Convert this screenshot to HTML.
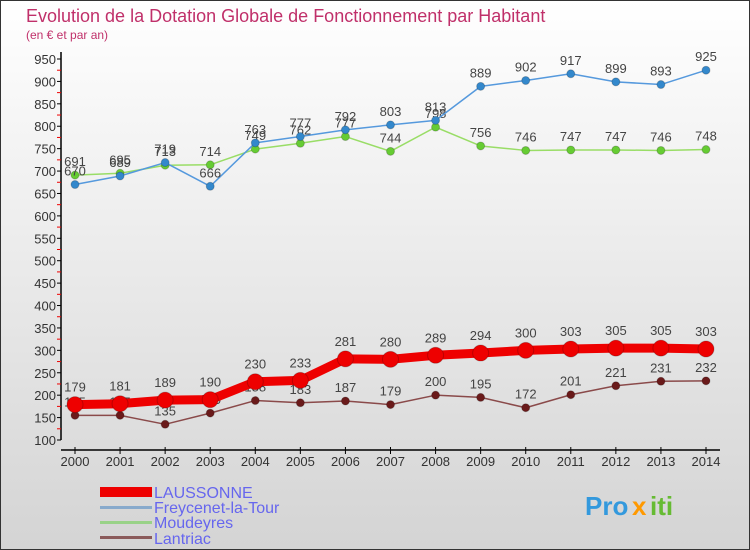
<!DOCTYPE html>
<html><head><meta charset="utf-8">
<style>
body{margin:0;width:750px;height:550px;overflow:hidden;font-family:"Liberation Sans","DejaVu Sans",sans-serif}
svg{display:block}
</style></head>
<body>
<svg width="750" height="550" xmlns="http://www.w3.org/2000/svg">
<defs>
<linearGradient id="bg" x1="0" y1="0" x2="0" y2="1">
<stop offset="0" stop-color="#ffffff"/><stop offset="1" stop-color="#d4d4d4"/>
</linearGradient>
</defs>
<rect x="0.5" y="0.5" width="749" height="549" fill="url(#bg)" stroke="#333"/>
<text x="26" y="22" font-size="18" fill="#c0306a">Evolution de la Dotation Globale de Fonctionnement par Habitant</text>
<text x="26" y="39" font-size="12" fill="#c0306a">(en € et par an)</text>
<g id="axes"></g>
<g id="series"></g>
<g id="legend">
<rect x="100" y="487" width="52" height="10" fill="#e00"/>
<text x="154" y="498" font-size="16" fill="#6666ee">LAUSSONNE</text>
<rect x="100" y="506" width="52" height="3" fill="#88aacc"/>
<text x="154" y="513" font-size="16" fill="#6666ee">Freycenet-la-Tour</text>
<rect x="100" y="521" width="52" height="3" fill="#99d288"/>
<text x="154" y="528" font-size="16" fill="#6666ee">Moudeyres</text>
<rect x="100" y="536" width="52" height="3" fill="#8a5a5a"/>
<text x="154" y="544" font-size="16" fill="#6666ee">Lantriac</text>
</g>
<g font-size="26" font-weight="bold">
<text x="585" y="515" fill="#3399dd">Pro</text><text x="632" y="515" fill="#ff9900">x</text><text x="650" y="515" fill="#66bb33">iti</text>
</g>
</svg>
<script>
const years=[2000,2001,2002,2003,2004,2005,2006,2007,2008,2009,2010,2011,2012,2013,2014];
const yTicks=[100,150,200,250,300,350,400,450,500,550,600,650,700,750,800,850,900,950];
const laussonne=[179,181,189,190,230,233,281,280,289,294,300,303,305,305,303];
const freycenet=[670,689,719,666,763,777,792,803,813,889,902,917,899,893,925];
const moudeyres=[691,695,713,714,749,762,777,744,798,756,746,747,747,746,748];
const lantriac=[155,155,135,160,188,183,187,179,200,195,172,201,221,231,232];
const NS="http://www.w3.org/2000/svg";
const X=i=>75+i*(706-75)/14;
const Y=v=>440-(v-100)*(440-59)/850;
function mk(tag,at,parent){const e=document.createElementNS(NS,tag);for(const k in at)e.setAttribute(k,at[k]);parent.appendChild(e);return e;}
const ax=document.getElementById('axes');
let l=mk('line',{x1:61,y1:52,x2:61,y2:440,stroke:'#000','stroke-width':1.5},ax);


l=mk('line',{x1:61,y1:450,x2:720,y2:450,stroke:'#000','stroke-width':1.5},ax);


yTicks.forEach((v,i)=>{
 mk('line',{x1:57,y1:Y(v),x2:61,y2:Y(v),stroke:'#000'},ax);
 if(i<yTicks.length-1) mk('line',{x1:57,y1:Y(v+25),x2:61,y2:Y(v+25),stroke:'#e00'},ax);
 const t=mk('text',{x:56,y:Y(v)+5,'text-anchor':'end','font-size':13,fill:'#333'},ax);
 t.textContent=v;
 
 
});
years.forEach((y,i)=>{
 mk('line',{x1:X(i),y1:447,x2:X(i),y2:454,stroke:'#000'},ax);
 const t=mk('text',{x:X(i),y:466,'text-anchor':'middle','font-size':13,fill:'#333'},ax);
 t.textContent=y;
 
 
});
const sg=document.getElementById('series');
function series(data,name,color,dot,w,r){
 const g=mk('g',{},sg);
 
 
 const p=mk('polyline',{points:data.map((v,i)=>X(i)+','+Y(v)).join(' '),fill:'none',stroke:color,'stroke-width':w,'stroke-linejoin':'round'},g);
 
 
 data.forEach((v,i)=>{
  const c=mk('circle',{cx:X(i),cy:Y(v),r:r,fill:dot,stroke:'rgba(0,0,0,0.2)'},g);
  
  
  const t=mk('text',{x:X(i),y:Y(v)-r-5,'text-anchor':'middle','font-size':13,fill:'#444'},g);
  t.textContent=v;
  
  
 });
}
series(lantriac,'lantriac','#8a4a4a','#6a1a1a',1.5,4);
series(moudeyres,'moudeyres','#99dd66','#66cc33',1.5,4);
series(freycenet,'freycenet','#5599dd','#3388cc',1.5,4);
series(laussonne,'laussonne','#ee0000','#ee0000',9,8);
</script>
</body></html>
